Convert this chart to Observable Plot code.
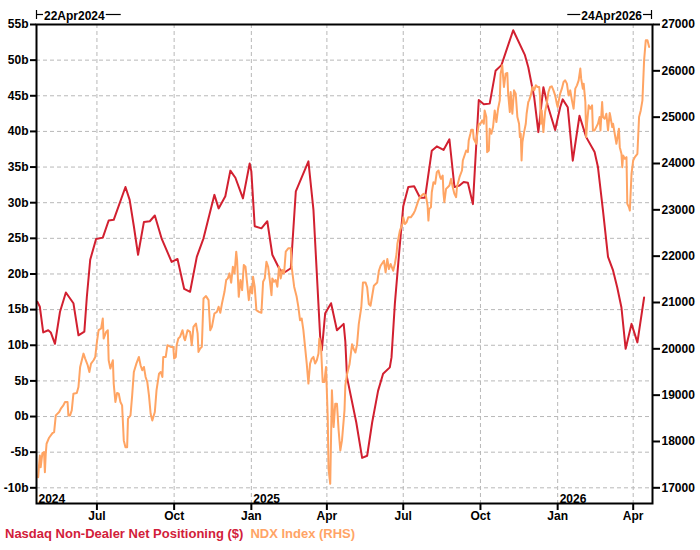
<!DOCTYPE html>
<html>
<head>
<meta charset="utf-8">
<script src="https://cdn.jsdelivr.net/npm/d3@7"></script>
<script src="https://cdn.jsdelivr.net/npm/@observablehq/plot@0.6"></script>
<style>
  html, body { margin: 0; padding: 0; background: #fff; }
  #chart svg { display: block; }
  #legend { font-family: "Liberation Sans", Arial, sans-serif; font-weight: bold; font-size: 13px; line-height: 16px; padding-left: 5px; padding-top: 1px; white-space: nowrap; }
</style>
</head>
<body>
<div id="chart"></div>
<div id="legend"></div>
<script>
// ---- Data ----
const seriesNames = ["Nasdaq Non-Dealer Net Positioning ($)", "NDX Index (RHS)"];
const seriesColors = ["#d2203a", "#ffa466"];
const rangeLabels = ["22Apr2024", "24Apr2026"];

// Net positioning, billions of $ (left axis)
const redDates = ["2024-04-21","2024-04-24","2024-04-28","2024-05-04","2024-05-07","2024-05-12","2024-05-18","2024-05-25","2024-06-03","2024-06-09","2024-06-16","2024-06-19","2024-06-23","2024-06-30","2024-07-08","2024-07-15","2024-07-21","2024-08-04","2024-08-09","2024-08-14","2024-08-19","2024-08-26","2024-09-02","2024-09-08","2024-09-16","2024-09-28","2024-10-05","2024-10-13","2024-10-20","2024-10-28","2024-11-05","2024-11-18","2024-11-23","2024-12-01","2024-12-07","2024-12-13","2024-12-22","2024-12-30","2025-01-01","2025-01-05","2025-01-13","2025-01-20","2025-01-26","2025-02-03","2025-02-08","2025-02-17","2025-02-23","2025-03-10","2025-03-16","2025-03-20","2025-03-24","2025-03-26","2025-03-30","2025-04-06","2025-04-13","2025-04-21","2025-04-23","2025-04-25","2025-05-06","2025-05-13","2025-05-19","2025-05-25","2025-06-01","2025-06-07","2025-06-15","2025-06-17","2025-06-21","2025-06-26","2025-07-01","2025-07-07","2025-07-14","2025-07-21","2025-07-27","2025-08-04","2025-08-10","2025-08-18","2025-08-25","2025-08-31","2025-09-06","2025-09-11","2025-09-16","2025-09-22","2025-09-29","2025-10-05","2025-10-12","2025-10-19","2025-10-26","2025-11-09","2025-11-23","2025-11-27","2025-12-04","2025-12-09","2025-12-15","2025-12-20","2025-12-29","2026-01-04","2026-01-07","2026-01-13","2026-01-19","2026-01-27","2026-02-04","2026-02-14","2026-02-18","2026-02-24","2026-03-02","2026-03-08","2026-03-13","2026-03-18","2026-03-23","2026-03-30","2026-04-06","2026-04-14"];
const redValues = [16.1,15.4,11.8,12.1,11.8,10.2,14.7,17.4,15.9,11.4,11.9,16.8,22.0,24.9,25.1,27.5,27.6,32.2,30.4,26.7,22.7,27.3,27.4,28.2,25.0,21.7,22.1,17.9,17.5,22.4,25.0,31.1,29.2,30.9,34.5,33.5,30.6,35.5,34.4,26.7,26.4,27.4,22.7,20.8,20.1,20.8,31.6,35.8,29.0,20.1,11.2,9.3,14.5,15.9,12.1,13.0,10.5,5.5,-0.8,-5.8,-5.5,-0.8,3.6,6.0,6.9,8.3,15.8,22.8,29.5,32.2,32.3,30.7,30.7,37.3,37.9,37.4,38.9,32.2,32.4,32.9,32.8,29.8,44.4,43.8,43.9,48.5,49.3,54.2,50.7,49.0,44.8,39.9,46.2,43.7,40.2,43.4,44.5,43.4,35.9,42.2,39.2,37.1,35.0,28.9,22.4,20.5,18.1,15.3,9.5,13.0,10.4,16.7];

// NDX index level (right axis)
const ndxDates = ["2024-04-22","2024-04-23","2024-04-24","2024-04-25","2024-04-27","2024-04-29","2024-04-30","2024-05-01","2024-05-02","2024-05-05","2024-05-09","2024-05-11","2024-05-13","2024-05-17","2024-05-19","2024-05-22","2024-05-24","2024-05-27","2024-05-28","2024-05-30","2024-06-01","2024-06-03","2024-06-07","2024-06-09","2024-06-11","2024-06-15","2024-06-17","2024-06-20","2024-06-22","2024-06-24","2024-06-27","2024-06-29","2024-07-01","2024-07-03","2024-07-06","2024-07-08","2024-07-09","2024-07-12","2024-07-14","2024-07-15","2024-07-17","2024-07-20","2024-07-21","2024-07-23","2024-07-25","2024-07-27","2024-07-29","2024-07-31","2024-08-02","2024-08-04","2024-08-06","2024-08-07","2024-08-10","2024-08-12","2024-08-14","2024-08-17","2024-08-20","2024-08-22","2024-08-24","2024-08-26","2024-08-28","2024-08-30","2024-09-01","2024-09-03","2024-09-05","2024-09-08","2024-09-10","2024-09-13","2024-09-15","2024-09-17","2024-09-18","2024-09-21","2024-09-23","2024-09-27","2024-09-30","2024-10-01","2024-10-03","2024-10-04","2024-10-06","2024-10-08","2024-10-11","2024-10-13","2024-10-14","2024-10-17","2024-10-20","2024-10-22","2024-10-24","2024-10-27","2024-10-29","2024-10-30","2024-11-01","2024-11-03","2024-11-05","2024-11-08","2024-11-11","2024-11-13","2024-11-15","2024-11-18","2024-11-21","2024-11-23","2024-11-25","2024-11-27","2024-11-30","2024-12-02","2024-12-04","2024-12-06","2024-12-08","2024-12-10","2024-12-12","2024-12-14","2024-12-15","2024-12-17","2024-12-19","2024-12-21","2024-12-23","2024-12-25","2024-12-27","2024-12-29","2024-12-31","2025-01-02","2025-01-03","2025-01-05","2025-01-07","2025-01-10","2025-01-13","2025-01-15","2025-01-17","2025-01-19","2025-01-21","2025-01-23","2025-01-25","2025-01-26","2025-01-28","2025-01-30","2025-02-01","2025-02-03","2025-02-05","2025-02-07","2025-02-09","2025-02-11","2025-02-14","2025-02-17","2025-02-18","2025-02-21","2025-02-24","2025-02-26","2025-02-28","2025-03-02","2025-03-04","2025-03-06","2025-03-08","2025-03-10","2025-03-12","2025-03-14","2025-03-16","2025-03-18","2025-03-20","2025-03-22","2025-03-23","2025-03-25","2025-03-27","2025-03-29","2025-03-31","2025-04-02","2025-04-03","2025-04-05","2025-04-07","2025-04-09","2025-04-11","2025-04-13","2025-04-15","2025-04-17","2025-04-19","2025-04-22","2025-04-23","2025-04-25","2025-04-28","2025-05-01","2025-05-03","2025-05-05","2025-05-07","2025-05-09","2025-05-12","2025-05-14","2025-05-17","2025-05-19","2025-05-21","2025-05-23","2025-05-25","2025-05-27","2025-05-31","2025-06-02","2025-06-04","2025-06-08","2025-06-10","2025-06-12","2025-06-14","2025-06-16","2025-06-19","2025-06-21","2025-06-23","2025-06-24","2025-06-27","2025-06-30","2025-07-01","2025-07-03","2025-07-05","2025-07-07","2025-07-10","2025-07-13","2025-07-15","2025-07-17","2025-07-19","2025-07-21","2025-07-23","2025-07-25","2025-07-28","2025-07-30","2025-07-31","2025-08-01","2025-08-03","2025-08-04","2025-08-06","2025-08-08","2025-08-10","2025-08-12","2025-08-14","2025-08-15","2025-08-17","2025-08-18","2025-08-19","2025-08-21","2025-08-23","2025-08-25","2025-08-27","2025-08-29","2025-08-31","2025-09-02","2025-09-03","2025-09-06","2025-09-09","2025-09-10","2025-09-12","2025-09-14","2025-09-16","2025-09-17","2025-09-19","2025-09-20","2025-09-22","2025-09-23","2025-09-26","2025-09-27","2025-09-29","2025-10-01","2025-10-03","2025-10-05","2025-10-06","2025-10-08","2025-10-09","2025-10-11","2025-10-12","2025-10-14","2025-10-16","2025-10-18","2025-10-20","2025-10-22","2025-10-24","2025-10-25","2025-10-27","2025-10-28","2025-10-29","2025-10-31","2025-11-02","2025-11-03","2025-11-05","2025-11-06","2025-11-08","2025-11-10","2025-11-12","2025-11-14","2025-11-16","2025-11-17","2025-11-18","2025-11-19","2025-11-20","2025-11-22","2025-11-24","2025-11-25","2025-11-27","2025-11-28","2025-11-30","2025-12-02","2025-12-04","2025-12-06","2025-12-08","2025-12-10","2025-12-11","2025-12-12","2025-12-13","2025-12-15","2025-12-17","2025-12-19","2025-12-21","2025-12-23","2025-12-25","2025-12-27","2025-12-29","2025-12-31","2026-01-01","2026-01-02","2026-01-04","2026-01-06","2026-01-08","2026-01-10","2026-01-12","2026-01-14","2026-01-16","2026-01-18","2026-01-20","2026-01-22","2026-01-24","2026-01-26","2026-01-28","2026-01-29","2026-01-31","2026-02-01","2026-02-03","2026-02-04","2026-02-05","2026-02-07","2026-02-09","2026-02-11","2026-02-12","2026-02-14","2026-02-16","2026-02-18","2026-02-20","2026-02-21","2026-02-23","2026-02-24","2026-02-26","2026-02-28","2026-03-02","2026-03-04","2026-03-05","2026-03-07","2026-03-08","2026-03-10","2026-03-12","2026-03-13","2026-03-15","2026-03-16","2026-03-18","2026-03-19","2026-03-20","2026-03-22","2026-03-24","2026-03-25","2026-03-27","2026-03-28","2026-03-30","2026-04-01","2026-04-03","2026-04-06","2026-04-08","2026-04-10","2026-04-12","2026-04-14","2026-04-16","2026-04-18","2026-04-20"];
const ndxValues = [17230,17482,17698,17446,17749,17771,17336,17731,17951,18081,18181,18203,18563,18636,18708,18780,18852,18852,18563,18563,18671,19032,19047,19176,19609,19897,19789,19645,19501,19681,19753,19825,20150,20402,20438,20654,20222,20366,20402,19753,19573,19753,19249,18852,19047,19032,18852,18780,18023,17878,17878,18491,18563,18996,19501,19681,19825,19645,19537,19609,19393,19285,18996,18599,18455,18636,19104,19465,19501,19393,19825,19825,20078,20042,20042,19789,19825,20078,20222,20258,20402,20222,20186,20402,20366,20078,20474,20546,20330,19933,20006,20042,21087,21138,21051,20402,20474,20762,20799,20907,20777,20979,21231,21484,21520,21628,21426,21772,21628,22097,21916,21123,21484,21267,21808,21772,21412,21051,21340,21195,21556,21340,20835,20799,20777,21448,21520,21880,21772,21484,21159,21520,21448,21484,21340,21772,21520,21700,21628,22097,22169,22169,21772,21340,21123,20907,20618,20654,20402,20042,19681,19249,19681,19789,19825,19681,19753,19897,20222,20042,19285,19285,19609,18527,17410,17086,19104,18311,18816,18816,18239,17806,18023,18671,19213,19450,19667,20100,19991,19919,20100,20532,20893,21433,21433,21325,20965,20929,21145,21361,21433,21686,21794,21902,21650,21938,21722,21830,21686,21830,22046,22262,22551,22695,22839,22695,22731,22839,22839,22911,22983,23092,23200,23272,23308,23344,23308,23092,22767,23020,23056,23380,23596,23560,23813,23849,23704,23668,23740,23344,23164,23452,23488,23524,23668,23488,23344,23272,23488,23704,23849,24065,24173,24281,24245,24497,24642,24728,24728,24533,24425,24606,24858,24858,24930,24858,25146,25002,24245,24281,24750,24642,24786,25146,24894,25183,25363,25939,26120,25867,25651,25939,25954,25507,25110,25543,25074,25579,25507,25002,24858,24570,24642,24065,24461,24678,24858,25074,25327,25363,25471,25651,25579,25687,25651,25651,25435,24858,25146,24678,25110,25291,25543,25651,25665,25579,25471,25291,25219,25327,25507,25615,25759,25795,25723,25471,25579,25363,25183,25615,25687,25795,26048,25831,25615,25723,25327,24570,24858,25255,25183,25255,24714,24714,24786,24858,25002,24714,25327,25002,24966,25074,24714,25089,25002,24786,24858,24642,24425,24533,24750,24353,24209,23921,24173,24101,24137,23128,23056,22983,23777,24065,24137,24209,25002,25146,25363,26228,26661,26661,26516];

// Axes
const leftTicks = [-10, -5, 0, 5, 10, 15, 20, 25, 30, 35, 40, 45, 50, 55];
const rightTicks = [17000, 18000, 19000, 20000, 21000, 22000, 23000, 24000, 25000, 26000, 27000];
const monthTicks = ["2024-07-01","2024-10-01","2025-01-01","2025-04-01","2025-07-01","2025-10-01","2026-01-01","2026-04-01"];
const yearLabels = ["2024", "2025", "2026"];
const yearPositions = ["2024-04-20", "2025-01-01", "2026-01-01"];
const xDomain = ["2024-04-20", "2026-04-24"];
const yDomain = [-12.2, 55];
// the right axis 17000..27000 spans the same height as the left -10b..55b
const rightRange = [17000, 27000], leftRange = [-10, 55];

// ---- Build ----
const toLeft = v => leftRange[0] + (v - rightRange[0]) * (leftRange[1] - leftRange[0]) / (rightRange[1] - rightRange[0]);
const toRight = v => rightRange[0] + (v - leftRange[0]) * (rightRange[1] - rightRange[0]) / (leftRange[1] - leftRange[0]);

const red = redDates.map((d, i) => ({date: new Date(d), value: redValues[i]}));
const ndx = ndxDates.map((d, i) => ({date: new Date(d), value: ndxValues[i]}));
const months = monthTicks.map(d => new Date(d));
const years = yearLabels.map((t, i) => ({label: t, date: new Date(yearPositions[i])}));

const gridStyle = {stroke: "#b8b8b8", strokeOpacity: 1, strokeDasharray: "4,3", strokeWidth: 1};

const chart = Plot.plot({
  width: 700,
  height: 525,
  marginLeft: 36,
  marginRight: 48,
  marginTop: 24,
  marginBottom: 22,
  style: {fontFamily: "'Liberation Sans', Arial, sans-serif", fontSize: "12px", fontWeight: "bold", color: "#000", background: "#fff"},
  x: {type: "utc", domain: xDomain.map(d => new Date(d))},
  y: {domain: yDomain},
  marks: [
    Plot.gridY(leftTicks, gridStyle),
    Plot.gridX(months, gridStyle),
    Plot.line(red, {x: "date", y: "value", stroke: "#d22030", strokeWidth: 2}),
    Plot.line(ndx, {x: "date", y: d => toLeft(d.value), stroke: "#ffa463", strokeWidth: 2}),
    Plot.text(years, {x: "date", text: "label", frameAnchor: "bottom", textAnchor: "start", lineAnchor: "bottom", dx: 2, dy: -1, fill: "#000"}),
    Plot.frame({stroke: "#000", strokeWidth: 2}),
    Plot.axisY(leftTicks, {anchor: "left", tickFormat: d => `${d}b`, tickSize: 6, tickPadding: 2, label: null, fontWeight: "bold", strokeWidth: 2}),
    Plot.axisY(rightTicks.map(toLeft), {anchor: "right", tickFormat: d => String(Math.round(toRight(d))), tickSize: 7, tickPadding: 2, label: null, fontWeight: "bold", strokeWidth: 2}),
    Plot.axisX(months, {anchor: "bottom", tickFormat: d3.utcFormat("%b"), tickSize: 7, tickPadding: 1, label: null, fontWeight: "bold", strokeWidth: 2})
  ]
});

document.getElementById("chart").appendChild(chart);

// Range labels above the frame, positioned from the plot's scales
const [x0, x1] = chart.scale("x").range;
const yTop = Math.min(...chart.scale("y").range);
const svg = d3.select(chart);
const g = svg.append("g").attr("font-weight", "bold").attr("font-size", 12).attr("fill", "#000")
  .attr("font-family", "'Liberation Sans', Arial, sans-serif");
const lineY = yTop - 9.5;
const base = yTop - 4;
const seg = (a, b, c, d) => g.append("line").attr("x1", a).attr("y1", b).attr("x2", c).attr("y2", d).attr("stroke", "#000").attr("stroke-width", 1.2);
// left
seg(x0 + 0.5, yTop - 14, x0 + 0.5, yTop - 5);
seg(x0, lineY, x0 + 7, lineY);
const lt = g.append("text").attr("x", x0 + 8).attr("y", base).attr("text-anchor", "start").text(rangeLabels[0]);
const lw = lt.node().getComputedTextLength();
seg(x0 + 9 + lw, lineY, x0 + 24 + lw, lineY);
// right
const rt = g.append("text").attr("x", x1 - 10).attr("y", base).attr("text-anchor", "end").text(rangeLabels[1]);
const rw = rt.node().getComputedTextLength();
seg(x1 - 11 - rw - 13, lineY, x1 - 11 - rw, lineY);
seg(x1 - 9, lineY, x1, lineY);
seg(x1 - 0.5, yTop - 14, x1 - 0.5, yTop - 5);

// Legend below the chart
const legend = document.getElementById("legend");
seriesNames.forEach((name, i) => {
  const s = document.createElement("span");
  s.textContent = name;
  s.style.color = seriesColors[i];
  s.style.marginRight = "7px";
  legend.appendChild(s);
});
</script>
</body>
</html>
